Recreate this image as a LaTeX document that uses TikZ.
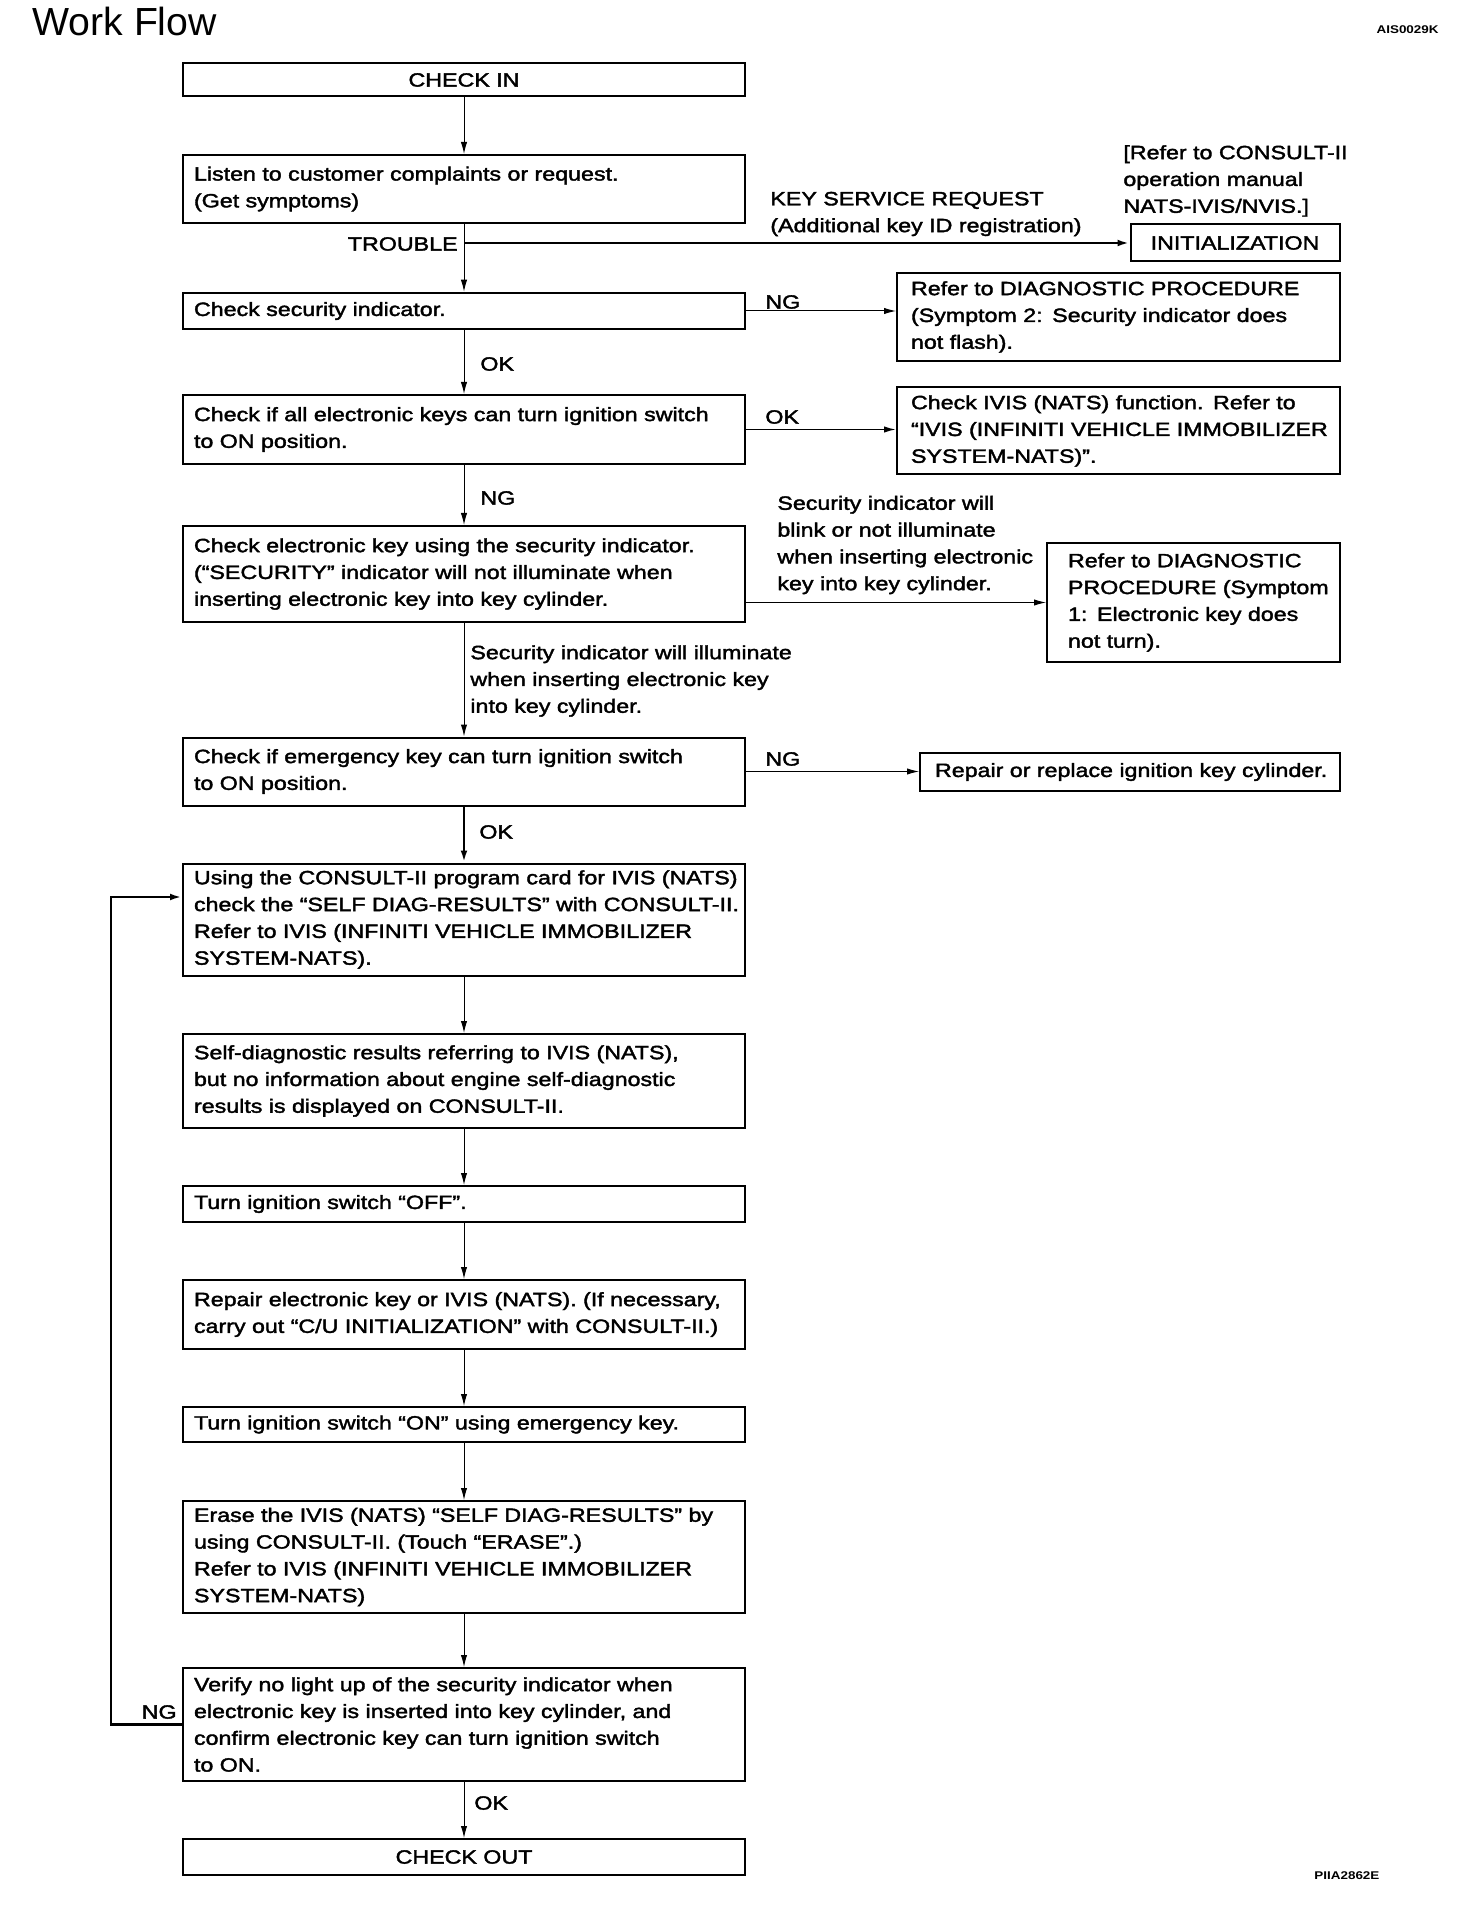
\documentclass[tikz,border=0pt]{standalone}
\usepackage{fontspec}
\setmainfont{Liberation Sans}[FakeStretch=1.21,FakeBold=2]
\newfontfamily\titlefont{Liberation Sans}
\newfontfamily\codefont{Liberation Sans}[FakeStretch=1.2]
\usetikzlibrary{arrows.meta}
\newcommand\bt[2]{\leftskip=#1\relax\rightskip=-30pt plus 1fil\relax #2\par}
\begin{document}
\begin{tikzpicture}[x=0.5pt,y=-0.5pt,
  every node/.style={font=\fontsize{9.6pt}{13.4pt}\selectfont, inner sep=0pt},
  box/.style={draw, line width=1pt, inner sep=0pt, align=left},
  cbox/.style={draw, line width=1pt, inner sep=0pt, align=center},
  thinc/.style={line width=0.5pt, -{Latex[length=6pt,width=3.2pt]}},
  medc/.style={line width=0.8pt, -{Latex[length=6pt,width=3.2pt]}},
  thickc/.style={line width=1.3pt, -{Latex[length=6pt,width=3.4pt]}},
  lbl/.style={anchor=west, align=left}]
\useasboundingbox (0,0) rectangle (1456,1914);

% title and codes
\node[anchor=west, font=\titlefont\fontsize{19.6pt}{22pt}\selectfont] (title) at (32,21) {Work Flow};
\node[anchor=east, font=\codefont\fontsize{5.6pt}{7pt}\selectfont\bfseries] (code1) at (1439,30) {AIS0029K};
\node[anchor=west, font=\codefont\fontsize{5.6pt}{7pt}\selectfont\bfseries] (code2) at (1314,1876) {PIIA2862E};

% main column
\node[cbox, minimum width=281pt, minimum height=16.5pt] (b1) at (464,80) {CHECK IN};
\node[box, text width=281pt, minimum height=34pt] (b2) at (464,189) {\bt{5.5pt}{Listen to customer complaints or request.\\(Get symptoms)}};
\node[box, text width=281pt, minimum height=18.25pt] (b3) at (464,311) {\bt{5.5pt}{Check security indicator.}};
\node[box, text width=281pt, minimum height=34.5pt] (b4) at (464,429.5) {\bt{5.5pt}{Check if all electronic keys can turn ignition switch\\to ON position.}};
\node[box, text width=281pt, minimum height=48pt] (b5) at (464,574) {\bt{5.5pt}{Check electronic key using the security indicator.\\(“SECURITY” indicator will not illuminate when\\inserting electronic key into key cylinder.}};
\node[box, text width=281pt, minimum height=34pt] (b6) at (464,771.5) {\bt{5.5pt}{Check if emergency key can turn ignition switch\\to ON position.}};
\node[box, text width=281pt, minimum height=56pt] (b7) at (464,919.5) {\bt{5.5pt}{Using the CONSULT-II program card for IVIS (NATS)\\check the “SELF DIAG-RESULTS” with CONSULT-II.\\Refer to IVIS (INFINITI VEHICLE IMMOBILIZER\\SYSTEM-NATS).}};
\node[box, text width=281pt, minimum height=47pt] (b8) at (464,1081) {\bt{5.5pt}{Self-diagnostic results referring to IVIS (NATS),\\but no information about engine self-diagnostic\\results is displayed on CONSULT-II.}};
\node[box, text width=281pt, minimum height=18pt] (b9) at (464,1204) {\bt{5.5pt}{Turn ignition switch “OFF”.}};
\node[box, text width=281pt, minimum height=34.5pt] (b10) at (464,1314.5) {\bt{5.5pt}{Repair electronic key or IVIS (NATS). (If necessary,\\carry out “C/U INITIALIZATION” with CONSULT-II.)}};
\node[box, text width=281pt, minimum height=17.5pt] (b11) at (464,1424.5) {\bt{5.5pt}{Turn ignition switch “ON” using emergency key.}};
\node[box, text width=281pt, minimum height=56pt] (b12) at (464,1557) {\bt{5.5pt}{Erase the IVIS (NATS) “SELF DIAG-RESULTS” by\\using CONSULT-II. (Touch “ERASE”.)\\Refer to IVIS (INFINITI VEHICLE IMMOBILIZER\\SYSTEM-NATS)}};
\node[box, text width=281pt, minimum height=56.5pt] (b13) at (464,1724.5) {\bt{5.5pt}{Verify no light up of the security indicator when\\electronic key is inserted into key cylinder, and\\confirm electronic key can turn ignition switch\\to ON.}};
\node[cbox, minimum width=281pt, minimum height=18pt] (b14) at (464,1857) {CHECK OUT};

% right column
\node[cbox, minimum width=104.5pt, minimum height=18.5pt] (init) at (1235,243) {INITIALIZATION};
\node[box, text width=221.5pt, minimum height=44pt] (d2) at (1118.5,317) {\bt{7pt}{Refer to DIAGNOSTIC PROCEDURE\\(Symptom 2: Security indicator does\\not flash).}};
\node[box, text width=221.5pt, minimum height=43.5pt] (ivis) at (1118.5,431) {\bt{7pt}{Check IVIS (NATS) function. Refer to\\“IVIS (INFINITI VEHICLE IMMOBILIZER\\SYSTEM-NATS)”.}};
\node[box, text width=146.5pt, minimum height=59.5pt] (sym1) at (1193.5,602.5) {\bt{10.5pt}{Refer to DIAGNOSTIC\\PROCEDURE (Symptom\\1: Electronic key does\\not turn).}};
\node[box, text width=210pt, minimum height=19pt] (rep) at (1130,772) {\bt{7.5pt}{Repair or replace ignition key cylinder.}};

% labels
\node[lbl] (lkey) at (770,214) {KEY SERVICE REQUEST\\(Additional key ID registration)};
\node[lbl] (lref) at (1123,181) {[Refer to CONSULT-II\\operation manual\\NATS-IVIS/NVIS.]};
\node[lbl] (lng1) at (765,302) {NG};
\node[lbl] (lok1) at (765,417) {OK};
\node[lbl] (lblink) at (777,545) {Security indicator will\\blink or not illuminate\\when inserting electronic\\key into key cylinder.};
\node[lbl] (lng2) at (765,759) {NG};
\node[lbl] (lok2) at (480,364) {OK};
\node[lbl] (lng3) at (480,498) {NG};
\node[lbl] (lillum) at (470,681) {Security indicator will illuminate\\when inserting electronic key\\into key cylinder.};
\node[lbl] (lok3) at (479,832) {OK};
\node[lbl] (lok4) at (474,1803) {OK};
\node[anchor=east] (lng4) at (177,1712) {NG};

% connectors
\coordinate (j) at (b2.south |- init.west);
\node[anchor=east] (ltrouble) at ([xshift=-3pt,yshift=-0.5pt]j) {TROUBLE};
\draw[thinc] (b1.south) -- (b2.north);
\draw[thinc] (b2.south) -- (b3.north);
\draw[thickc] (j) -- (init.west);
\draw[thinc] (b3.east) -- (b3.east -| d2.west);
\draw[thinc] (b3.south) -- (b4.north);
\draw[medc] (b4.east) -- (b4.east -| ivis.west);
\draw[thinc] (b4.south) -- (b5.north);
\draw[thinc] (b5.east |- sym1.west) -- (sym1.west);
\draw[thinc] (b5.south) -- (b6.north);
\draw[thinc] (b6.east) -- (b6.east -| rep.west);
\draw[thickc] (b6.south) -- (b7.north);
\draw[thinc] (b7.south) -- (b8.north);
\draw[thinc] (b8.south) -- (b9.north);
\draw[thinc] (b9.south) -- (b10.north);
\draw[thinc] (b10.south) -- (b11.north);
\draw[thinc] (b11.south) -- (b12.north);
\draw[thinc] (b12.south) -- (b13.north);
\draw[thinc] (b13.south) -- (b14.north);
\coordinate (lp) at (111,897);
\draw[thickc] (b13.west) -| (lp) -- (lp -| b7.west);
\end{tikzpicture}
\end{document}
